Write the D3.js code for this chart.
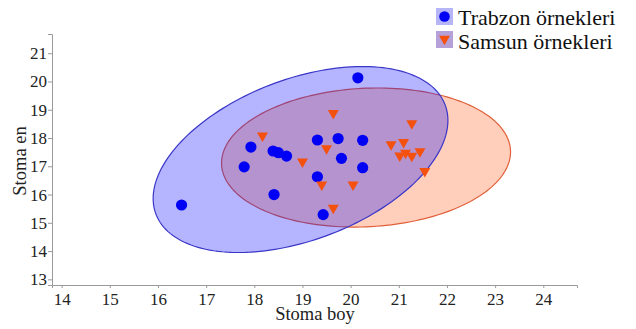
<!DOCTYPE html>
<html>
<head>
<meta charset="utf-8">
<script src="https://cdn.jsdelivr.net/npm/d3@7"></script>
<style>
  body { margin: 0; background: #fff; }
  svg text { font-family: "Liberation Serif", "Times New Roman", serif; }
</style>
</head>
<body>
<svg id="chart" width="636" height="329"></svg>
<script>
// Trabzon samples (stoma boy, stoma en)
var trabzonX = [16.49, 17.79, 17.93, 18.39, 18.50, 18.67, 18.41, 19.31, 19.74, 19.81, 20.25, 20.25, 19.31, 19.43, 20.15];
var trabzonY = [15.63, 16.98, 17.68, 17.54, 17.48, 17.36, 16.00, 17.93, 17.98, 17.28, 17.92, 16.95, 16.63, 15.29, 20.13];

// Samsun samples
var samsunX = [18.17, 19.64, 19.50, 19.00, 19.40, 20.05, 19.64, 21.27, 20.84, 21.10, 21.02, 21.14, 21.27, 21.44, 21.54];
var samsunY = [18.05, 18.84, 17.60, 17.13, 16.31, 16.31, 15.49, 18.48, 17.74, 17.82, 17.34, 17.44, 17.33, 17.49, 16.79];

// ellipses: centre, half widths, correlation
var trabzonEllipse = [18.96, 17.24, 3.06, 3.29, 0.42];
var samsunEllipse = [20.32, 17.31, 3.00, 2.46, 0.08];

var xTicks = [14, 15, 16, 17, 18, 19, 20, 21, 22, 23, 24];
var yTicks = [13, 14, 15, 16, 17, 18, 19, 20, 21];
var legendLabels = ["Trabzon örnekleri", "Samsun örnekleri"];

var svg = d3.select("#chart");

var x = d3.scaleLinear().domain([13.8, 24.70]).range([52, 577]),
    y = d3.scaleLinear().domain([12.8, 21.68]).range([285, 34]);

function ellipsePoints(e) {
    var phi = Math.acos(e[4]), pts = [];
    for (var i = 0; i <= 180; i++) {
        var t = i / 180 * 2 * Math.PI;
        pts.push([x(e[0] + e[2] * Math.cos(t)), y(e[1] + e[3] * Math.cos(t - phi))]);
    }
    return pts;
}
var line = d3.line();

// samsun below, trabzon on top
svg.append("path")
    .attr("d", line(ellipsePoints(samsunEllipse)) + "Z")
    .attr("fill", "rgb(255,105,45)").attr("fill-opacity", 0.32)
    .attr("stroke", "#e0603a").attr("stroke-width", 1.2);

svg.append("path")
    .attr("d", line(ellipsePoints(trabzonEllipse)) + "Z")
    .attr("fill", "rgb(0,0,255)").attr("fill-opacity", 0.29)
    .attr("stroke", "#3a36c8").attr("stroke-width", 1.2);

// axes
var xAxis = svg.append("g")
    .attr("transform", "translate(0,285)")
    .call(d3.axisBottom(x).tickValues(xTicks).tickSize(3).tickPadding(5));
var yAxis = svg.append("g")
    .attr("transform", "translate(52,0)")
    .call(d3.axisLeft(y).tickValues(yTicks).tickSize(4).tickPadding(1));

[xAxis, yAxis].forEach(function(g) {
    g.select(".domain").attr("stroke", "#9a9a9a");
    g.selectAll(".tick line").attr("stroke", "#9a9a9a");
    g.selectAll(".tick text").attr("fill", "#222").style("font-size", "17px");
});

svg.append("text")
    .attr("x", 315).attr("y", 320)
    .attr("text-anchor", "middle")
    .style("font-size", "18.5px").attr("fill", "#222")
    .text("Stoma boy");

svg.append("text")
    .attr("transform", "translate(26,161) rotate(-90)")
    .attr("text-anchor", "middle")
    .style("font-size", "18.5px").attr("fill", "#222")
    .text("Stoma en");

// points
svg.append("g").selectAll("circle")
    .data(d3.range(trabzonX.length))
    .join("circle")
    .attr("cx", function(i) { return x(trabzonX[i]); })
    .attr("cy", function(i) { return y(trabzonY[i]); })
    .attr("r", 5.6)
    .attr("fill", "#0000f5");

var tri = d3.symbol().type(d3.symbolTriangle).size(52);
svg.append("g").selectAll("path")
    .data(d3.range(samsunX.length))
    .join("path")
    .attr("d", tri)
    .attr("transform", function(i) {
        return "translate(" + x(samsunX[i]) + "," + (y(samsunY[i]) - 1) + ") rotate(180)";
    })
    .attr("fill", "#f4500e");

// legend
var legend = svg.append("g").attr("transform", "translate(436,8)");
legend.append("rect").attr("x", 0).attr("y", 0).attr("width", 17).attr("height", 17).attr("fill", "#b5b5f8");
legend.append("rect").attr("x", 0).attr("y", 23).attr("width", 17).attr("height", 17).attr("fill", "#b6a0d8");
legend.append("circle").attr("cx", 8.5).attr("cy", 8.5).attr("r", 5.3).attr("fill", "#0000f5");
legend.append("path").attr("d", tri).attr("transform", "translate(8.5,31) rotate(180)").attr("fill", "#f4500e");
legend.selectAll("text.lab")
    .data(legendLabels)
    .join("text")
    .attr("class", "lab")
    .attr("x", 22)
    .attr("y", function(d, i) { return 16.5 + i * 24; })
    .style("font-size", "22px").attr("fill", "#111")
    .text(function(d) { return d; });
</script>
</body>
</html>
